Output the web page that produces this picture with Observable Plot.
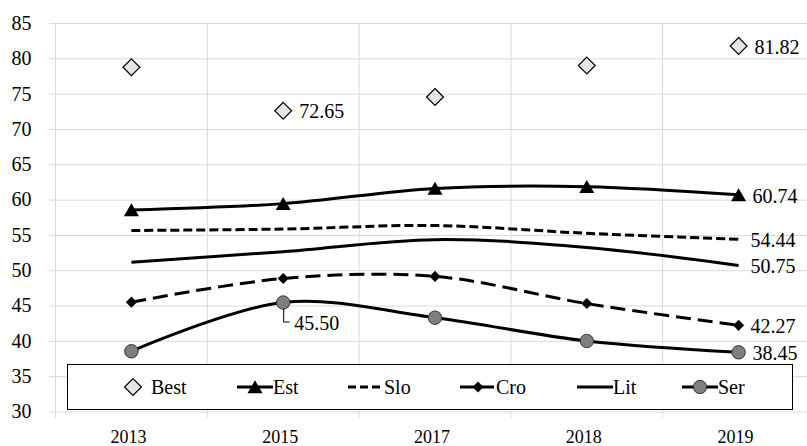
<!DOCTYPE html>
<html><head><meta charset="utf-8">
<script src="https://cdn.jsdelivr.net/npm/d3@7"></script>
<script src="https://cdn.jsdelivr.net/npm/@observablehq/plot@0.6"></script>
<style>
html,body{margin:0;padding:0;background:#fff;overflow:hidden}
#wrap{position:relative;width:807px;height:446px;font-family:'Liberation Serif',serif}
#wrap svg text{font-family:'Liberation Serif',serif !important;font-variant-numeric:normal !important}
#legend{position:absolute;left:67px;top:364px;width:726px;height:46px;border:1.5px solid #000;background:#fff;box-sizing:border-box}
.sw{position:absolute;top:50%;transform:translateY(-50%)}
.lt{position:absolute;top:50%;transform:translateY(-50%);font-family:'Liberation Serif',serif;font-size:20px;line-height:20px;color:#000}
</style></head>
<body><div id="wrap"><div id="legend"></div></div>
<script>
const years = ["2013", "2015", "2017", "2018", "2019"];
const names = ["Best", "Est", "Slo", "Cro", "Lit", "Ser"];
const best = [78.8, 72.65, 74.6, 79.05, 81.82];
const est  = [58.6, 59.5, 61.65, 61.9, 60.74];
const slo  = [55.7, 55.9, 56.4, 55.3, 54.44];
const lit  = [51.2, 52.7, 54.4, 53.3, 50.75];
const cro  = [45.55, 48.9, 49.2, 45.35, 42.27];
const ser  = [38.6, 45.50, 43.35, 40.05, 38.45];
const yTicks = [30, 35, 40, 45, 50, 55, 60, 65, 70, 75, 80, 85];

const idx = d3.range(years.length);
const defs = [
  {name: names[0], values: best, line: false, symbol: "diamond2", r: 7.6, fill: "#e6e6e6", stroke: "#000", sw: 1.2, dy: 0},
  {name: names[1], values: est, line: true, symbol: "triangle", r: 5.6, fill: "#000", stroke: "none", sw: 0, dy: 2},
  {name: names[2], values: slo, line: true, dash: "9,4"},
  {name: names[3], values: cro, line: true, dash: "15,7", symbol: "diamond2", r: 5, fill: "#000", stroke: "none", sw: 0, dy: 0},
  {name: names[4], values: lit, line: true},
  {name: names[5], values: ser, line: true, symbol: "circle", r: 6.7, fill: "#7f7f7f", stroke: "#333", sw: 1, dy: 0}
];
const rows = d => idx.map(i => ({i, v: d.values[i], name: d.name}));

const marks = [
  Plot.ruleY(yTicks, {stroke: "#d9d9d9", strokeWidth: 1}),
  Plot.ruleX(d3.range(-0.5, years.length, 1), {stroke: "#d9d9d9", strokeWidth: 1}),
  Plot.axisY(yTicks, {tickSize: 0, tickPadding: 18, fontSize: 20, fill: "#000", label: null}),
  Plot.axisX(idx, {tickSize: 0, tickPadding: 12, fontSize: 18, fill: "#000", dx: -3, tickFormat: i => years[i], label: null})
];
for (const d of defs) {
  if (d.line) marks.push(Plot.line(rows(d), {x: "i", y: "v", curve: "catmull-rom", stroke: "#000", strokeWidth: 3, strokeDasharray: d.dash, strokeLinecap: "butt"}));
}
for (const d of defs) {
  if (d.symbol) marks.push(Plot.dot(rows(d), {x: "i", y: "v", symbol: d.symbol, r: d.r, fill: d.fill, stroke: d.stroke, strokeWidth: d.sw, dy: d.dy}));
}
// value labels
const last = years.length - 1;
const endLabels = [
  {i: last, v: best[last], dx: 16},
  {i: last, v: est[last], dx: 14},
  {i: last, v: slo[last], dx: 12},
  {i: last, v: lit[last], dx: 12},
  {i: last, v: cro[last], dx: 12},
  {i: last, v: ser[last], dx: 14}
];
for (const l of endLabels) {
  marks.push(Plot.text([l], {x: "i", y: "v", text: d => d.v.toFixed(2), textAnchor: "start", dx: l.dx, dy: 1.5, fontSize: 20, fill: "#000"}));
}
marks.push(Plot.text([{i: 1, v: best[1]}], {x: "i", y: "v", text: d => d.v.toFixed(2), textAnchor: "start", dx: 16, dy: 1, fontSize: 20, fill: "#000"}));
marks.push(Plot.text([{i: 1, v: ser[1]}], {x: "i", y: "v", text: d => d.v.toFixed(2), textAnchor: "start", dx: 11, dy: 21, fontSize: 20, fill: "#000"}));

const plot = Plot.plot({
  width: 807, height: 446,
  marginLeft: 49, marginRight: 0, marginTop: 23, marginBottom: 28,
  x: {domain: [-0.5, years.length - 0.5], range: [55, 814], axis: null},
  y: {domain: [30, 85], range: [411.5, 23], axis: null},
  style: {fontFamily: "'Liberation Serif',serif", background: "white", overflow: "hidden"},
  marks
});
const wrap = document.getElementById("wrap");
wrap.insertBefore(plot, wrap.firstChild);

// leader line for 45.50
const sx = plot.scale("x"), sy = plot.scale("y");
const px = sx.apply(1), py = sy.apply(ser[1]);
d3.select(plot).append("path")
  .attr("d", `M${px + 1},${py + 7}V${py + 20}H${px + 7}`)
  .attr("fill", "none").attr("stroke", "#000").attr("stroke-width", 1);

// legend
const legend = d3.select("#legend");
const swX = [46, 168, 279, 391, 508, 613];
defs.forEach((d, k) => {
  const svg = legend.append("svg").attr("class", "sw").attr("width", 38).attr("height", 20)
    .style("left", swX[k] + "px");
  if (d.line) svg.append("line").attr("x1", 1).attr("x2", 37).attr("y1", 10).attr("y2", 10)
    .attr("stroke", "#000").attr("stroke-width", 3).attr("stroke-dasharray", d.name === "Slo" ? "8,4" : d.name === "Cro" ? "14,6" : null);
  if (d.symbol) {
    const sym = {diamond2: d3.symbolDiamond2, triangle: d3.symbolTriangle, circle: d3.symbolCircle}[d.symbol];
    svg.append("path").attr("d", d3.symbol(sym, d.r * d.r * Math.PI)())
      .attr("transform", `translate(19,${10 + (d.dy || 0)})`)
      .attr("fill", d.fill).attr("stroke", d.stroke).attr("stroke-width", d.sw);
  }
  legend.append("div").attr("class", "lt").style("left", (swX[k] + 37) + "px").text(d.name);
});
</script></body></html>
